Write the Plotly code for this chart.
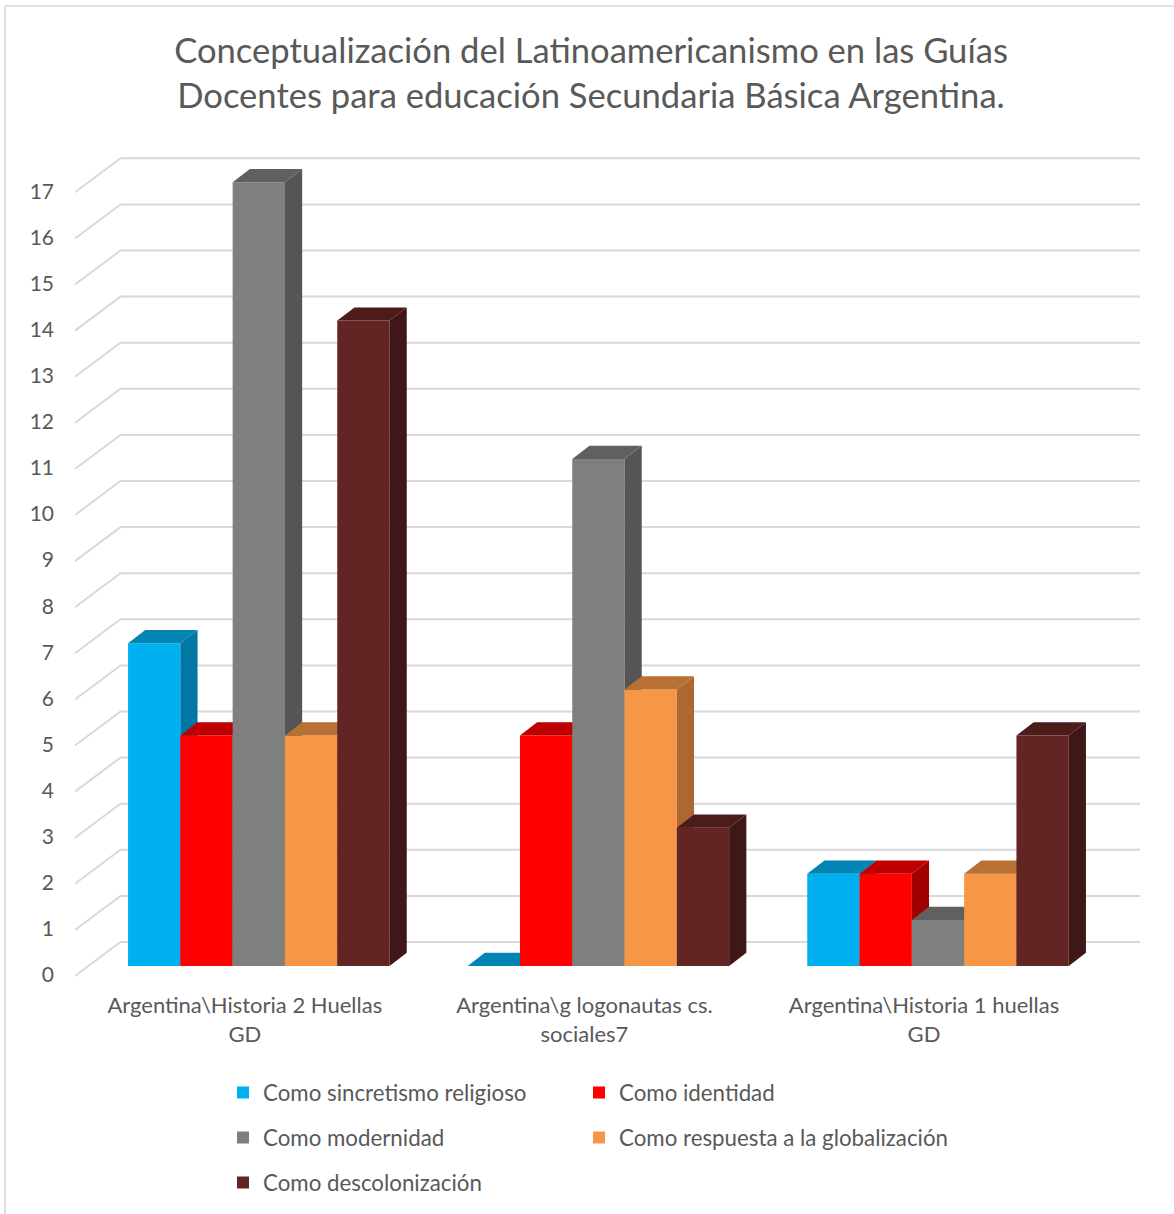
import plotly.graph_objects as go

# ---- data ----
categories = ["Argentina\\Historia 2 Huellas<br>GD", "Argentina\\g logonautas cs.<br>sociales7", "Argentina\\Historia 1 huellas<br>GD"]
series_names = ["Como sincretismo religioso", "Como identidad", "Como modernidad",
                "Como respuesta a la globalización", "Como descolonización"]
sincretismo = [7, 0, 2]
identidad = [5, 5, 2]
modernidad = [17, 11, 1]
globalizacion = [5, 6, 2]
descolonizacion = [14, 3, 5]
values = [sincretismo, identidad, modernidad, globalizacion, descolonizacion]
y_ticks = list(range(18))
front_colors = ["#00B0F0", "#FF0000", "#7F7F7F", "#F79646", "#632523"]
top_colors = ["#0085B5", "#C00000", "#606060", "#B97035", "#4C1C1B"]
side_colors = ["#0078A3", "#A00000", "#555555", "#AD6831", "#3F1716"]
GRID = "#D9D9D9"
TEXT = "#595959"
FONT = "Lato"

# ---- geometry (canvas pixels -> axis scales) ----
W, H = 1174, 1214
L, T, B = 75, 150, 982          # plot rectangle
PX_PER_X = 339.6                # one category
PX_PER_Y = 46.1                 # one unit
BAR_W = 52.3 / PX_PER_X
BAR_DX = 17.2 / PX_PER_X        # bar depth
BAR_DY = 13.2 / PX_PER_Y
WALL_DX = 45.5 / PX_PER_X       # wall depth
WALL_DY = 34.0 / PX_PER_Y
x_range = [-0.5, (W - L) / PX_PER_X - 0.5]
y_range = [(976 - B) / PX_PER_Y, (976 - T) / PX_PER_Y]
BAR_SHIFT_X = 14.0 / PX_PER_X   # bars stand inside the depth of the floor
BAR_SHIFT_Y = 10.0 / PX_PER_Y

fig = go.Figure()

# wall gridlines with their diagonal on the side wall
gx, gy = [], []
right_end = (1140 - L) / PX_PER_X - 0.5
for t in y_ticks:
    gx += [x_range[0], x_range[0] + WALL_DX, right_end, None]
    gy += [t, t + WALL_DY, t + WALL_DY, None]
fig.add_trace(go.Scatter(x=gx, y=gy, mode="lines", line=dict(color=GRID, width=2),
                         showlegend=False, hoverinfo="skip", xaxis="x", yaxis="y"))

layout_axes = {}
for k, name in enumerate(series_names):
    ax_id = k + 2
    xa, ya = f"x{ax_id}", f"y{ax_id}"
    pos = [i + (k - 2) * BAR_W for i in range(len(categories))]
    fig.add_trace(go.Bar(x=pos, y=values[k], width=BAR_W, name=name,
                         marker=dict(color=front_colors[k], line=dict(width=0)),
                         xaxis=xa, yaxis=ya, legend="legend" if k == 0 else f"legend{k + 1}",
                         showlegend=True))
    sx, sy, tx, ty = [], [], [], []
    for p, v in zip(pos, values[k]):
        l, r = p - BAR_W / 2, p + BAR_W / 2
        sx += [r, r + BAR_DX, r + BAR_DX, r, r, None]
        sy += [0, BAR_DY, v + BAR_DY, v, 0, None]
        tx += [l, l + BAR_DX, r + BAR_DX, r, l, None]
        ty += [v, v + BAR_DY, v + BAR_DY, v, v, None]
    fig.add_trace(go.Scatter(x=sx, y=sy, mode="lines", fill="toself", fillcolor=side_colors[k],
                             line=dict(width=0, color=side_colors[k]), showlegend=False,
                             hoverinfo="skip", xaxis=xa, yaxis=ya))
    fig.add_trace(go.Scatter(x=tx, y=ty, mode="lines", fill="toself", fillcolor=top_colors[k],
                             line=dict(width=0, color=top_colors[k]), showlegend=False,
                             hoverinfo="skip", xaxis=xa, yaxis=ya))
    layout_axes[f"xaxis{ax_id}"] = dict(overlaying="x", anchor=ya, visible=False,
                                        range=[x_range[0] - BAR_SHIFT_X, x_range[1] - BAR_SHIFT_X])
    layout_axes[f"yaxis{ax_id}"] = dict(overlaying="y", anchor=xa, visible=False,
                                        range=[y_range[0] - BAR_SHIFT_Y, y_range[1] - BAR_SHIFT_Y])


def px(x):
    return (x - L) / (W - L)


def py(y):
    return (B - y) / (B - T)


# legends: one entry per row/column slot
slots = [(223, 1092.5), (579, 1092.5), (223, 1137.5), (579, 1137.5), (223, 1182.5)]
legends = {}
for k, (lx, ly) in enumerate(slots):
    legends["legend" if k == 0 else f"legend{k + 1}"] = dict(
        x=px(lx), y=py(ly), xanchor="left", yanchor="middle", bgcolor="rgba(0,0,0,0)",
        font=dict(family=FONT, size=22.3, color=TEXT), itemclick=False, itemdoubleclick=False)

fig.update_layout(
    width=W, height=H, autosize=False, paper_bgcolor="white", plot_bgcolor="white",
    margin=dict(l=L, r=0, t=T, b=H - B), barmode="overlay", hovermode=False,
    font=dict(family=FONT, color=TEXT),
    title=dict(text="Conceptualización del Latinoamericanismo en las Guías<br>Docentes para educación Secundaria Básica Argentina.",
               x=591 / W, xanchor="center", y=1 - 63 / H, yanchor="middle",
               font=dict(family=FONT, size=34.6, color=TEXT)),
    xaxis=dict(range=x_range, tickmode="array", tickvals=list(range(len(categories))), ticktext=categories,
               showgrid=False, zeroline=False, showline=False, ticks="", ticklabelstandoff=8,
               tickfont=dict(family=FONT, size=22, color=TEXT), tickangle=0),
    yaxis=dict(range=y_range, tickmode="array", tickvals=y_ticks, ticktext=[str(t) for t in y_ticks],
               showgrid=False, zeroline=False, showline=False, ticks="", ticklabelstandoff=20, ticklabelshift=-1,
               tickfont=dict(family=FONT, size=21, color=TEXT)),
    shapes=[
        dict(type="line", xref="paper", yref="paper", x0=px(5), x1=px(5), y0=py(6), y1=py(H), line=dict(color=GRID, width=1.6)),
        dict(type="line", xref="paper", yref="paper", x0=px(5), x1=px(W), y0=py(6), y1=py(6), line=dict(color=GRID, width=1.6)),
    ],
    **layout_axes, **legends,
)

fig.write_html("out.html", post_script="document.body.style.margin='0';", config={"displayModeBar": False})
